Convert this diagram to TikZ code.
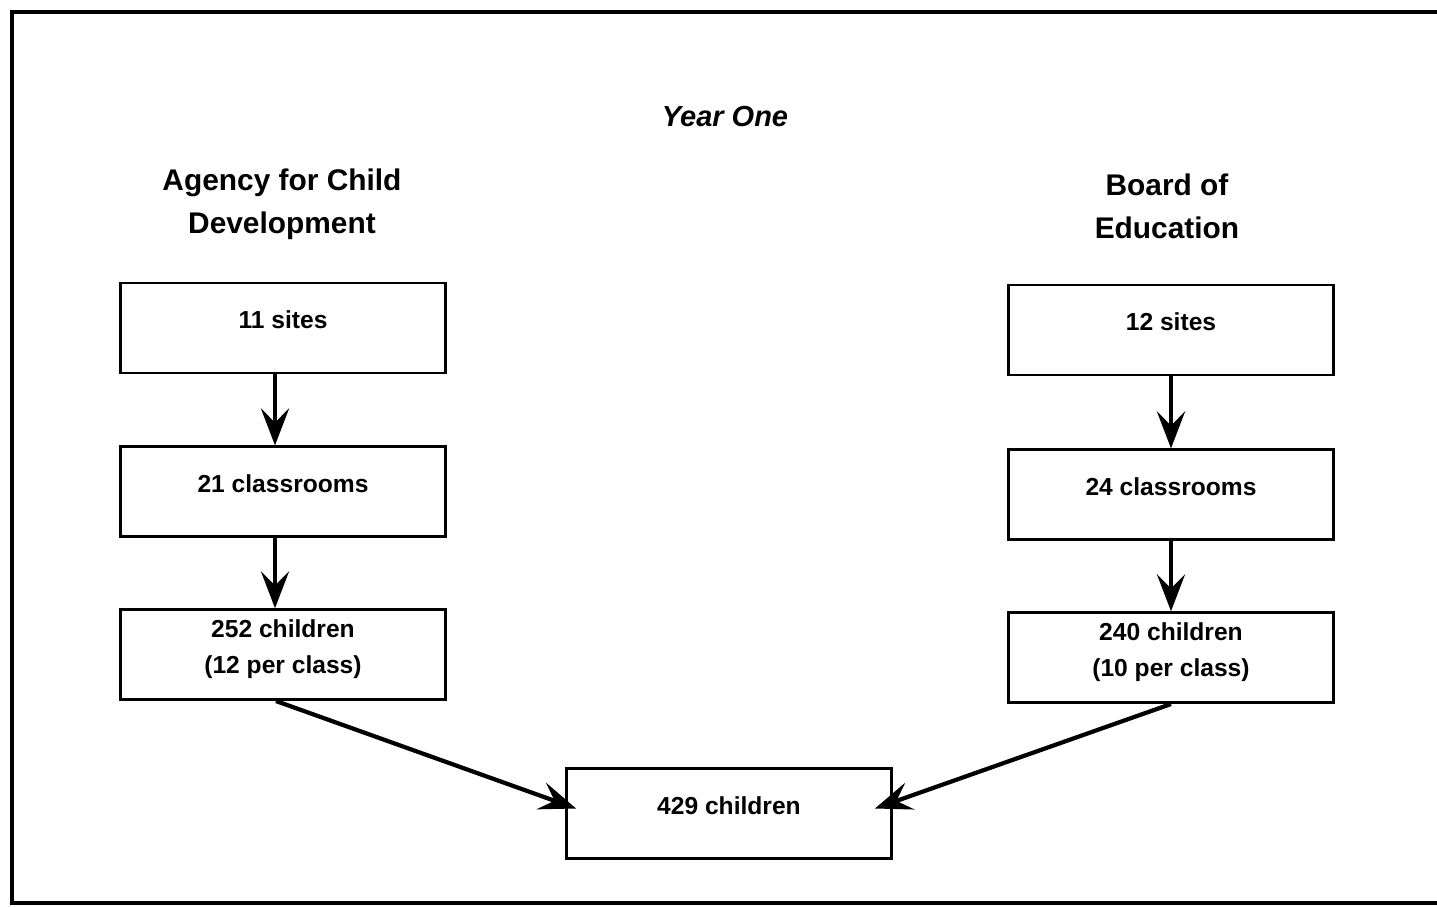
\documentclass[tikz,border=0pt]{standalone}
\usepackage{fontspec}
\setmainfont{Liberation Sans}
\usetikzlibrary{positioning,arrows.meta}
\tikzset{
    countbox/.style={draw,line width=1.6pt,minimum width=6.5cm,minimum height=1.8cm,text depth=0.32cm,align=center,font=\fontsize{14}{21}\selectfont\bfseries},
    headtext/.style={align=center,font=\fontsize{17}{24.5}\selectfont\bfseries},
    flow/.style={line width=2.4pt,-{Stealth[length=21pt,width=16pt,inset=8pt]}}
}
\begin{document}
\begin{tikzpicture}
                        \useasboundingbox (0,0) rectangle (28.74,18.12);
                        \draw[line width=2.2pt] (28.74,17.88) -- (0.24,17.88) -- (0.24,0.06) -- (28.74,0.06);
                        \node[font=\fontsize{16.5}{20}\selectfont\bfseries\itshape] (year) at (14.5,15.78) {Year One};
                        \node[headtext] (acd) at (5.64,14.04) {Agency for Child\\Development};
                        \node[headtext] (boe) at (23.34,14.0) {Board of\\Education};
                        \node[countbox] (sitesA) at (5.66,11.56) {11 sites};
                        \node[countbox,below=1.42cm of sitesA] (roomsA) {21 classrooms};
                        \node[countbox,below=1.4cm of roomsA] (kidsA) {252 children\\(12 per class)};
                        \node[countbox] (sitesB) at (23.42,11.52) {12 sites};
                        \node[countbox,below=1.44cm of sitesB] (roomsB) {24 classrooms};
                        \node[countbox,below=1.4cm of roomsB] (kidsB) {240 children\\(10 per class)};
                        \node[countbox] (total) at (14.58,1.85) {429 children};
                        \draw[flow] ([xshift=-0.16cm]sitesA.south) -- ([xshift=-0.16cm]roomsA.north);
                        \draw[flow] ([xshift=-0.16cm]roomsA.south) -- ([xshift=-0.16cm]kidsA.north);
                        \draw[flow] (sitesB.south) -- (roomsB.north);
                        \draw[flow] (roomsB.south) -- (kidsB.north);
                        \draw[flow] ([xshift=-0.14cm]kidsA.south) -- ([xshift=0.22cm,yshift=0.1cm]total.west);
                        \draw[flow] (kidsB.south) -- ([xshift=-0.36cm,yshift=0.1cm]total.east);
                    \end{tikzpicture}
\end{document}
